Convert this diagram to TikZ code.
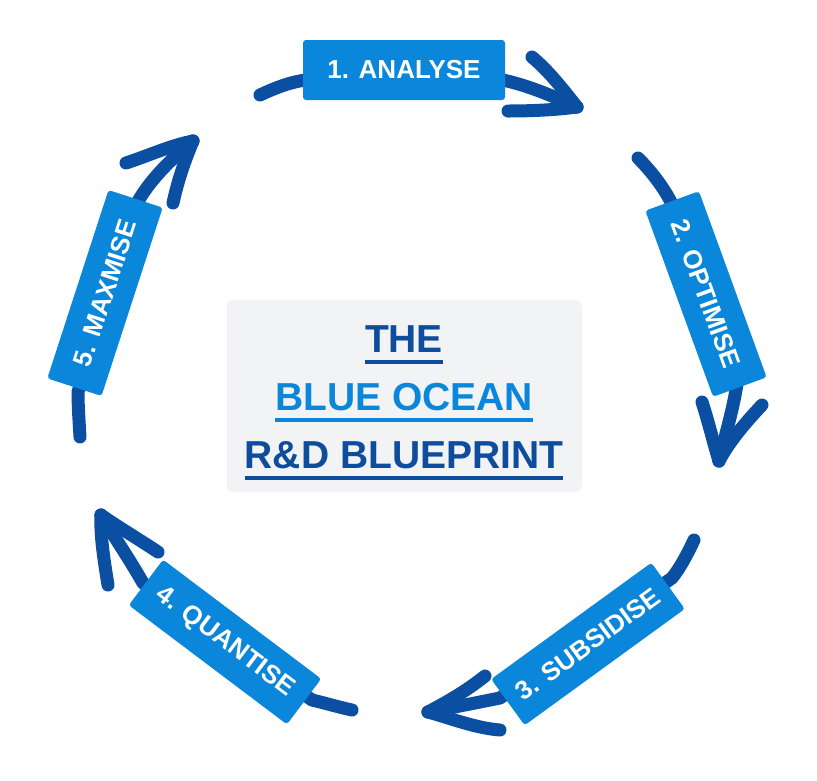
\documentclass[tikz,border=0pt]{standalone}
\usepackage{fontspec}
\setmainfont{Liberation Sans}
\usetikzlibrary{backgrounds}
\definecolor{arrowblue}{RGB}{11,79,163}
\definecolor{boxblue}{RGB}{10,134,218}
\definecolor{textdark}{RGB}{14,76,156}
\definecolor{bggray}{RGB}{241,243,245}
\begin{document}
\begin{tikzpicture}[x=1pt,y=-1pt,
  arr/.style={draw=arrowblue, line width=13pt, line cap=round, line join=round},
  stepbox/.style={fill=boxblue, text=white, font=\bfseries\fontsize{26}{30}\selectfont,
    minimum width=198pt, minimum height=57pt, rounded corners=3pt, inner sep=0pt},
  titletext/.style={font=\bfseries\fontsize{39}{44}\selectfont, inner sep=0pt, anchor=base},
  uline/.style={line width=3.5pt}]
\useasboundingbox (0,0) rectangle (817,780);

% centre box
\node[fill=bggray, rounded corners=6pt, minimum width=355pt, minimum height=192pt, inner sep=0pt] (centre) at (404.5,396) {};
\node[titletext, text=textdark] (l1) at (404,352) {THE};
\node[titletext, text=boxblue] (l2) at (404,410) {BLUE OCEAN};
\node[titletext, text=textdark] (l3) at (404,468) {R\&D BLUEPRINT};
\draw[uline, textdark] ([yshift=-10pt]l1.base west) -- ([yshift=-10pt]l1.base east);
\draw[uline, boxblue] ([yshift=-10pt]l2.base west) -- ([yshift=-10pt]l2.base east);
\draw[uline, textdark] ([yshift=-10pt]l3.base west) -- ([yshift=-10pt]l3.base east);

% step boxes
\node[stepbox, minimum width=202pt, minimum height=60pt] (b1) at (404,70) {1. ANALYSE};
\node[stepbox, rotate=-70] (b2) at (706,294) {2. OPTIMISE};
\node[stepbox, rotate=36] (b3) at (588,644) {3. SUBSIDISE};
\node[stepbox, rotate=-37] (b4) at (225,642) {4. QUANTISE};
\node[stepbox, rotate=72] (b5) at (105,293) {5. MAXMISE};

% arrow coordinates
\coordinate (s1) at (260,95);  \coordinate (a1in) at (306,80);  \coordinate (a1out) at (503,80);
\coordinate (t1) at (577,107); \coordinate (w1a) at (532,57);   \coordinate (w1b) at (508,111);
\coordinate (s2) at (638,158); \coordinate (a2in) at (672,204); \coordinate (a2out) at (737,384);
\coordinate (t2) at (719,461); \coordinate (w2a) at (702,402);  \coordinate (w2b) at (762,405);
\coordinate (s3) at (694,540); \coordinate (a3in) at (672,578); \coordinate (a3out) at (500,698);
\coordinate (t3) at (428,712); \coordinate (w3a) at (485,676);  \coordinate (w3b) at (500,730);
\coordinate (s4) at (352,710); \coordinate (a4in) at (312,700); \coordinate (a4out) at (143,583);
\coordinate (t4) at (101,515); \coordinate (w4a) at (108,585);  \coordinate (w4b) at (158,552);
\coordinate (s5) at (80,437);  \coordinate (a5in) at (78,392);  \coordinate (a5out) at (137,203);
\coordinate (t5) at (193,141); \coordinate (w5a) at (126,163);  \coordinate (w5b) at (173,203);

\begin{scope}[on background layer]
% arrow 1
\draw[arr] (s1) .. controls (275,88) and (290,82) .. (a1in) -- (a1out) .. controls (530,86) and (555,97) .. (t1);
\draw[arr] (w1a) .. controls (550,72) and (565,92) .. (t1);
\draw[arr] (w1b) .. controls (530,111) and (555,110) .. (t1);
% arrow 2
\draw[arr] (s2) .. controls (652,172) and (664,188) .. (a2in) -- (a2out) .. controls (733,410) and (724,440) .. (t2);
\draw[arr] (w2a) .. controls (708,420) and (714,445) .. (t2);
\draw[arr] (w2b) .. controls (748,420) and (730,440) .. (t2);
% arrow 3
\draw[arr] (s3) .. controls (687,555) and (680,568) .. (a3in) -- (a3out) .. controls (475,703) and (450,708) .. (t3);
\draw[arr] (w3a) .. controls (465,692) and (445,703) .. (t3);
\draw[arr] (w3b) .. controls (475,728) and (450,718) .. (t3);
% arrow 4
\draw[arr] (s4) .. controls (338,707) and (325,703) .. (a4in) -- (a4out) .. controls (130,560) and (113,535) .. (t4);
\draw[arr] (w4a) .. controls (104,560) and (100,535) .. (t4);
\draw[arr] (w4b) .. controls (140,540) and (115,525) .. (t4);
% arrow 5
\draw[arr] (s5) .. controls (79,420) and (78,405) .. (a5in) -- (a5out) .. controls (150,180) and (170,160) .. (t5);
\draw[arr] (w5a) .. controls (150,155) and (172,145) .. (t5);
\draw[arr] (w5b) .. controls (178,180) and (185,160) .. (t5);
\end{scope}
\end{tikzpicture}
\end{document}
